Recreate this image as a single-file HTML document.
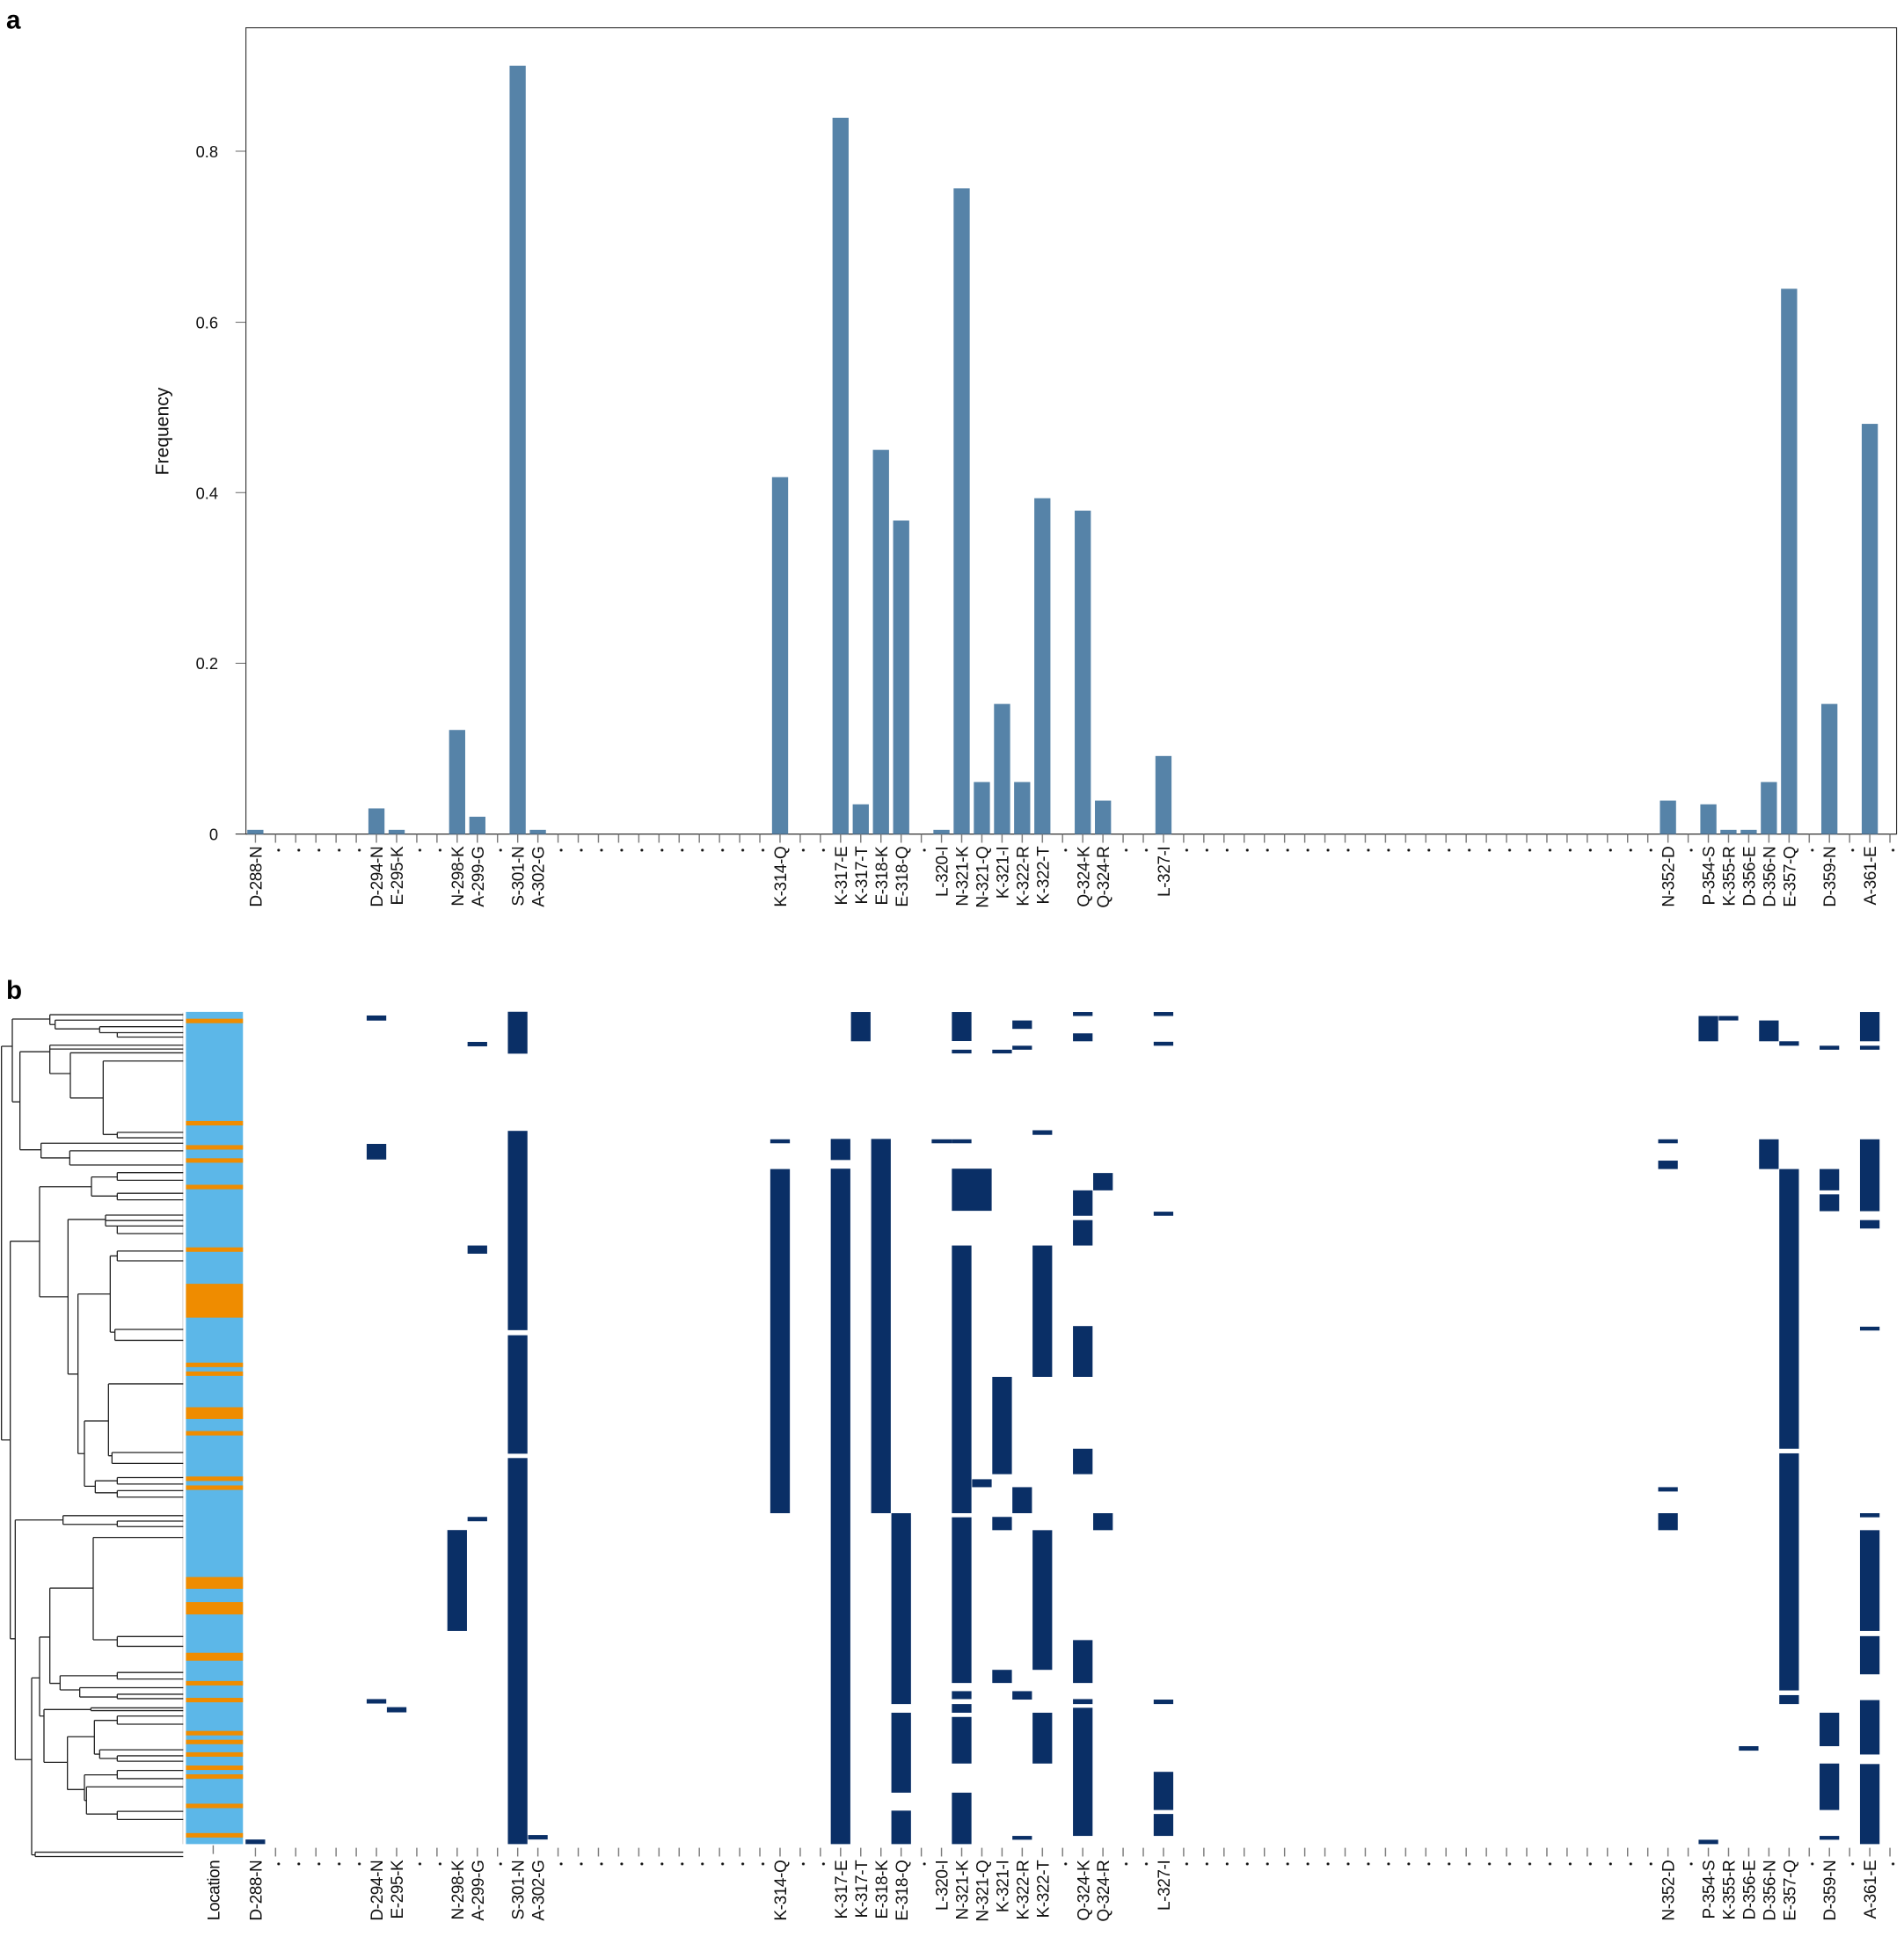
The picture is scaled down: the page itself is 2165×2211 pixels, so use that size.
<!DOCTYPE html>
<html><head><meta charset="utf-8"><style>html,body{margin:0;padding:0;background:#fff}svg{display:block}</style></head>
<body>
<svg xmlns="http://www.w3.org/2000/svg" xmlns:xlink="http://www.w3.org/1999/xlink" width="2165" height="2211" viewBox="0 0 1536 1568.6" font-family="Liberation Sans, sans-serif">
<defs>
<pattern id="tk" patternUnits="userSpaceOnUse" x="205.5" y="0" width="16.28" height="2000"><rect x="0" y="0" width="1" height="2000" fill="#777"/></pattern>
<pattern id="dt" patternUnits="userSpaceOnUse" x="198" y="684" width="16.28" height="4"><circle cx="10.5" cy="2" r="1.1" fill="#111"/></pattern>
<g id="xaxis">
<rect x="205.5" y="673" width="1336" height="7" fill="url(#tk)"/>
<g fill="url(#dt)">
<rect x="214.28" y="684" width="81.4" height="4"/><rect x="328.24" y="684" width="32.56" height="4"/><rect x="393.36" y="684" width="16.28" height="4"/><rect x="442.2" y="684" width="179.08" height="4"/><rect x="637.56" y="684" width="32.56" height="4"/><rect x="735.24" y="684" width="16.28" height="4"/><rect x="849.2" y="684" width="16.28" height="4"/><rect x="898.04" y="684" width="32.56" height="4"/><rect x="946.88" y="684" width="390.72" height="4"/><rect x="1353.88" y="684" width="16.28" height="4"/><rect x="1451.56" y="684" width="16.28" height="4"/><rect x="1484.12" y="684" width="16.28" height="4"/><rect x="1516.68" y="684" width="16.28" height="4"/>
</g>
<g font-size="13.5" fill="#111" text-anchor="end" letter-spacing="-0.3">
<text transform="translate(211,683) rotate(-90)">D-288-N</text>
<text transform="translate(308.7,683) rotate(-90)">D-294-N</text>
<text transform="translate(325,683) rotate(-90)">E-295-K</text>
<text transform="translate(373.8,683) rotate(-90)">N-298-K</text>
<text transform="translate(390.1,683) rotate(-90)">A-299-G</text>
<text transform="translate(422.6,683) rotate(-90)">S-301-N</text>
<text transform="translate(438.9,683) rotate(-90)">A-302-G</text>
<text transform="translate(634.3,683) rotate(-90)">K-314-Q</text>
<text transform="translate(683.1,683) rotate(-90)">K-317-E</text>
<text transform="translate(699.4,683) rotate(-90)">K-317-T</text>
<text transform="translate(715.7,683) rotate(-90)">E-318-K</text>
<text transform="translate(732,683) rotate(-90)">E-318-Q</text>
<text transform="translate(764.5,683) rotate(-90)">L-320-I</text>
<text transform="translate(780.8,683) rotate(-90)">N-321-K</text>
<text transform="translate(797.1,683) rotate(-90)">N-321-Q</text>
<text transform="translate(813.4,683) rotate(-90)">K-321-I</text>
<text transform="translate(829.6,683) rotate(-90)">K-322-R</text>
<text transform="translate(845.9,683) rotate(-90)">K-322-T</text>
<text transform="translate(878.5,683) rotate(-90)">Q-324-K</text>
<text transform="translate(894.8,683) rotate(-90)">Q-324-R</text>
<text transform="translate(943.6,683) rotate(-90)">L-327-I</text>
<text transform="translate(1350.6,683) rotate(-90)">N-352-D</text>
<text transform="translate(1383.2,683) rotate(-90)">P-354-S</text>
<text transform="translate(1399.4,683) rotate(-90)">K-355-R</text>
<text transform="translate(1415.7,683) rotate(-90)">D-356-E</text>
<text transform="translate(1432,683) rotate(-90)">D-356-N</text>
<text transform="translate(1448.3,683) rotate(-90)">E-357-Q</text>
<text transform="translate(1480.8,683) rotate(-90)">D-359-N</text>
<text transform="translate(1513.4,683) rotate(-90)">A-361-E</text>
</g>
</g>
</defs>

<text x="5" y="23" font-size="21" font-weight="bold">a</text>
<text x="5" y="806" font-size="21" font-weight="bold">b</text>

<!-- panel a -->
<g stroke="#777" stroke-width="0.8">
<line x1="190" y1="122" x2="198" y2="122"/><line x1="190" y1="260" x2="198" y2="260"/><line x1="190" y1="397.5" x2="198" y2="397.5"/><line x1="190" y1="535.2" x2="198" y2="535.2"/>
</g>
<line x1="190" y1="673" x2="1530" y2="673" stroke="#333" stroke-width="0.8"/>
<rect x="198.4" y="22.4" width="1331.6" height="650.6" fill="none" stroke="#333" stroke-width="0.8"/>
<g font-size="13" fill="#111" text-anchor="end">
<text x="176" y="127">0.8</text><text x="176" y="265">0.6</text><text x="176" y="402.5">0.4</text><text x="176" y="540">0.2</text><text x="176" y="678">0</text>
</g>
<text transform="translate(136,348) rotate(-90)" font-size="15" text-anchor="middle" fill="#111">Frequency</text>

<g fill="#5683a8">
<rect x="199.5" y="669.6" width="13" height="3.4"/>
<rect x="297.2" y="652.3" width="13" height="20.7"/>
<rect x="313.5" y="669.6" width="13" height="3.4"/>
<rect x="362.3" y="589" width="13" height="84"/>
<rect x="378.6" y="659" width="13" height="14"/>
<rect x="411.1" y="53" width="13" height="620"/>
<rect x="427.4" y="669.6" width="13" height="3.4"/>
<rect x="622.8" y="385" width="13" height="288"/>
<rect x="671.6" y="95" width="13" height="578"/>
<rect x="687.9" y="649" width="13" height="24"/>
<rect x="704.2" y="363" width="13" height="310"/>
<rect x="720.5" y="420" width="13" height="253"/>
<rect x="753" y="669.6" width="13" height="3.4"/>
<rect x="769.3" y="152" width="13" height="521"/>
<rect x="785.6" y="631" width="13" height="42"/>
<rect x="801.9" y="568" width="13" height="105"/>
<rect x="818.1" y="631" width="13" height="42"/>
<rect x="834.4" y="402" width="13" height="271"/>
<rect x="867" y="412" width="13" height="261"/>
<rect x="883.3" y="646" width="13" height="27"/>
<rect x="932.1" y="610" width="13" height="63"/>
<rect x="1339.1" y="646" width="13" height="27"/>
<rect x="1371.7" y="649" width="13" height="24"/>
<rect x="1387.9" y="669.6" width="13" height="3.4"/>
<rect x="1404.2" y="669.6" width="13" height="3.4"/>
<rect x="1420.5" y="631" width="13" height="42"/>
<rect x="1436.8" y="233" width="13" height="440"/>
<rect x="1469.3" y="568" width="13" height="105"/>
<rect x="1501.9" y="342" width="13" height="331"/>
</g>

<use xlink:href="#xaxis"/>
<use xlink:href="#xaxis" transform="translate(0,818)"/>

<!-- panel b location -->
<rect x="150" y="816.5" width="46" height="671.5" fill="#5cb7e8"/>
<g fill="#ef8c00">
<rect x="150" y="822" width="46" height="3.6"/><rect x="150" y="904.5" width="46" height="3.6"/><rect x="150" y="924" width="46" height="3.6"/><rect x="150" y="934.6" width="46" height="3.6"/><rect x="150" y="956" width="46" height="3.6"/><rect x="150" y="1006.5" width="46" height="3.6"/><rect x="150" y="1035.9" width="46" height="27.3"/><rect x="150" y="1099.5" width="46" height="3.6"/><rect x="150" y="1106.6" width="46" height="3.6"/><rect x="150" y="1135.5" width="46" height="9.5"/><rect x="150" y="1154.7" width="46" height="3.6"/><rect x="150" y="1191.4" width="46" height="3.6"/><rect x="150" y="1198.6" width="46" height="3.6"/><rect x="150" y="1272.5" width="46" height="9.5"/><rect x="150" y="1292.7" width="46" height="10"/><rect x="150" y="1333.6" width="46" height="6.4"/><rect x="150" y="1356.4" width="46" height="3.6"/><rect x="150" y="1370" width="46" height="3.6"/><rect x="150" y="1396.7" width="46" height="3.6"/><rect x="150" y="1403.8" width="46" height="3.6"/><rect x="150" y="1413.9" width="46" height="3.6"/><rect x="150" y="1424.6" width="46" height="3.6"/><rect x="150" y="1431.7" width="46" height="3.6"/><rect x="150" y="1455.4" width="46" height="3.6"/><rect x="150" y="1479.1" width="46" height="3.6"/>
</g>
<line x1="172" y1="1489" x2="172" y2="1496" stroke="#777" stroke-width="1"/>
<text transform="translate(177,1501) rotate(-90)" font-size="13.5" text-anchor="end" fill="#111" letter-spacing="-0.3">Location</text>
<line x1="147.5" y1="817" x2="147.5" y2="1488" stroke="#ccc" stroke-width="0.6"/>

<!-- dendrogram -->
<g transform="translate(0,809.1) scale(0.23649,0.43937)">
<path fill="none" stroke="#222" stroke-width="1.3" vector-effect="non-scaling-stroke" d="M5 80V803 M5 80H42 M5 803H35
M42 30V182 M42 30H170 M42 182H68
M170 22V40 M170 22H625 M170 40H188
M188 32V48 M188 32H625 M188 48H340
M340 44V55 M340 44H625 M340 55H400 M400 55V63 M400 55H625 M400 63H625
M68 90V270 M68 90H170 M68 270H140
M170 78V130 M170 78H625 M170 85H625 M170 130H240
M240 92V175 M240 92H625 M240 175H352
M352 107V242 M352 107H625 M352 242H400 M400 238V248 M400 238H625 M400 248H625
M140 258V285 M140 258H625 M140 285H238 M238 272V298 M238 272H625 M238 298H625
M35 438V1168 M35 438H135 M35 1168H52
M135 338V540 M135 338H312 M135 540H232
M312 320V355 M312 320H400 M400 312V326 M400 312H625 M400 326H625 M312 355H400 M400 350V362 M400 350H625 M400 362H625
M232 398V682 M232 398H360 M232 682H266
M360 390V410 M360 390H625 M360 400H625 M360 410H400 M400 410V424 M400 410H625 M400 424H625
M266 535V828 M266 535H376 M266 828H288
M376 465V605 M376 465H400 M400 456V474 M400 456H625 M400 474H625 M376 605H392 M392 600V620 M392 600H625 M392 620H625
M288 768V888 M288 768H370 M288 888H325
M370 700V832 M370 700H625 M370 832H382 M382 826V846 M382 826H625 M382 846H625
M325 878V900 M325 878H400 M400 872V884 M400 872H625 M400 884H625 M325 900H400 M400 896V908 M400 896H625 M400 908H625
M52 950V1390 M52 950H215 M52 1390H108
M215 942V958 M215 942H625 M215 958H400 M400 952V962 M400 952H625 M400 962H625
M108 1240V1565 M108 1240H135 M108 1565H120 M120 1560V1568 M120 1560H625 M120 1568H625
M135 1165V1310 M135 1165H170 M135 1310H150
M170 1075V1250 M170 1075H318 M170 1250H205
M318 982V1170 M318 982H625 M318 1170H400 M400 1164V1182 M400 1164H625 M400 1182H625
M205 1236V1262 M205 1236H400 M400 1230V1242 M400 1230H625 M400 1242H625 M205 1262H272 M272 1258V1275 M272 1258H625 M272 1275H400 M400 1270V1278 M400 1270H625 M400 1278H625
M150 1298V1395 M150 1298H310 M310 1295V1300 M310 1295H625 M310 1300H625 M150 1395H230
M230 1348V1445 M230 1348H322 M230 1445H288
M322 1318V1380 M322 1318H400 M400 1310V1325 M400 1310H625 M400 1325H625 M322 1380H340 M340 1372V1388 M340 1372H625 M340 1388H400 M400 1383V1393 M400 1383H625 M400 1393H625
M288 1418V1465 M288 1418H400 M400 1410V1425 M400 1410H625 M400 1425H625 M288 1465H295 M295 1440V1490 M295 1440H625 M295 1490H400 M400 1485V1500 M400 1485H625 M400 1500H625"/>
</g>

<!-- heatmap -->
<g fill="#0a2f66">
<rect x="198.1" y="1484.3" width="15.8" height="3.7"/>
<rect x="295.8" y="819.4" width="15.8" height="4.1"/><rect x="295.8" y="923" width="15.8" height="12.6"/><rect x="295.8" y="1371" width="15.8" height="3.6"/>
<rect x="312.1" y="1377.5" width="15.8" height="4.2"/>
<rect x="360.9" y="1234.6" width="15.8" height="81.4"/>
<rect x="377.2" y="840.7" width="15.8" height="3.6"/><rect x="377.2" y="1005" width="15.8" height="6.6"/><rect x="377.2" y="1224" width="15.8" height="3.5"/>
<rect x="409.7" y="816.4" width="15.8" height="33.8"/><rect x="409.7" y="912.5" width="15.8" height="160.8"/><rect x="409.7" y="1077.4" width="15.8" height="95.6"/><rect x="409.7" y="1176.5" width="15.8" height="311.5"/>
<rect x="426" y="1480.7" width="15.8" height="3.6"/>
<rect x="621.4" y="919.3" width="15.8" height="3.2"/><rect x="621.4" y="943.3" width="15.8" height="277.7"/>
<rect x="670.2" y="919" width="15.8" height="17"/><rect x="670.2" y="943" width="15.8" height="545"/>
<rect x="686.5" y="816.6" width="15.8" height="23.6"/>
<rect x="702.8" y="919" width="15.8" height="302"/>
<rect x="719.1" y="1221" width="15.8" height="154"/><rect x="719.1" y="1382" width="15.8" height="64.5"/><rect x="719.1" y="1461" width="15.8" height="27"/>
<rect x="751.6" y="919.3" width="16.3" height="3.2"/>
<rect x="767.9" y="816.6" width="15.8" height="23.4"/><rect x="767.9" y="847" width="15.8" height="3"/><rect x="767.9" y="919.3" width="15.8" height="3.2"/><rect x="767.9" y="943" width="32.1" height="34"/><rect x="767.9" y="1005" width="15.8" height="216"/><rect x="767.9" y="1224.3" width="15.8" height="133.7"/><rect x="767.9" y="1364.6" width="15.8" height="6.4"/><rect x="767.9" y="1375" width="15.8" height="7"/><rect x="767.9" y="1385.4" width="15.8" height="37.6"/><rect x="767.9" y="1446.5" width="15.8" height="41.5"/>
<rect x="784.2" y="1193.6" width="15.8" height="6.4"/>
<rect x="800.5" y="847" width="15.8" height="3"/><rect x="800.5" y="1111" width="15.8" height="78.5"/><rect x="800.5" y="1224" width="15.8" height="10.7"/><rect x="800.5" y="1347.4" width="15.8" height="10.6"/>
<rect x="816.7" y="823.4" width="15.8" height="6.8"/><rect x="816.7" y="843.8" width="15.8" height="3.2"/><rect x="816.7" y="1200" width="15.8" height="21"/><rect x="816.7" y="1364.6" width="15.8" height="6.8"/><rect x="816.7" y="1481.4" width="15.8" height="3.1"/>
<rect x="833" y="912" width="15.8" height="3.7"/><rect x="833" y="1005" width="15.8" height="106"/><rect x="833" y="1234.7" width="15.8" height="112.7"/><rect x="833" y="1382" width="15.8" height="41"/>
<rect x="865.6" y="816.6" width="15.8" height="3.2"/><rect x="865.6" y="833.8" width="15.8" height="6.4"/><rect x="865.6" y="960.5" width="15.8" height="20.5"/><rect x="865.6" y="984.5" width="15.8" height="20.5"/><rect x="865.6" y="1070" width="15.8" height="41"/><rect x="865.6" y="1169" width="15.8" height="20.5"/><rect x="865.6" y="1323.4" width="15.8" height="34.6"/><rect x="865.6" y="1371" width="15.8" height="4"/><rect x="865.6" y="1378" width="15.8" height="103.4"/>
<rect x="881.9" y="946.5" width="15.8" height="14"/><rect x="881.9" y="1221" width="15.8" height="13.7"/>
<rect x="930.7" y="816.6" width="15.8" height="3.2"/><rect x="930.7" y="840.6" width="15.8" height="3.2"/><rect x="930.7" y="977.7" width="15.8" height="3.3"/><rect x="930.7" y="1371.4" width="15.8" height="3.6"/><rect x="930.7" y="1429.7" width="15.8" height="30.8"/><rect x="930.7" y="1463.7" width="15.8" height="17.7"/>
<rect x="1337.7" y="919.3" width="15.8" height="3.2"/><rect x="1337.7" y="936.5" width="15.8" height="6.8"/><rect x="1337.7" y="1200" width="15.8" height="3.5"/><rect x="1337.7" y="1221" width="15.8" height="13.7"/>
<rect x="1370.3" y="819.8" width="15.8" height="20.4"/><rect x="1370.3" y="1484.5" width="15.8" height="3.5"/>
<rect x="1386.5" y="819.8" width="15.8" height="3.6"/>
<rect x="1402.8" y="1409" width="15.8" height="3.6"/>
<rect x="1419.1" y="823.4" width="15.8" height="16.8"/><rect x="1419.1" y="919.3" width="15.8" height="24"/>
<rect x="1435.4" y="840.2" width="15.8" height="3.6"/><rect x="1435.4" y="943.3" width="15.8" height="225.7"/><rect x="1435.4" y="1172.7" width="15.8" height="191.3"/><rect x="1435.4" y="1367.8" width="15.8" height="7.2"/>
<rect x="1467.9" y="843.8" width="15.8" height="3.2"/><rect x="1467.9" y="943.3" width="15.8" height="17.2"/><rect x="1467.9" y="963.7" width="15.8" height="13.6"/><rect x="1467.9" y="1382" width="15.8" height="27"/><rect x="1467.9" y="1423" width="15.8" height="37.5"/><rect x="1467.9" y="1481.4" width="15.8" height="3.1"/>
<rect x="1500.5" y="816.6" width="15.8" height="23.6"/><rect x="1500.5" y="843.8" width="15.8" height="3.2"/><rect x="1500.5" y="919.3" width="15.8" height="58"/><rect x="1500.5" y="984.5" width="15.8" height="6.8"/><rect x="1500.5" y="1070.5" width="15.8" height="3.1"/><rect x="1500.5" y="1221" width="15.8" height="3.3"/><rect x="1500.5" y="1234.7" width="15.8" height="81.3"/><rect x="1500.5" y="1320.2" width="15.8" height="30.8"/><rect x="1500.5" y="1371.8" width="15.8" height="43.9"/><rect x="1500.5" y="1423.4" width="15.8" height="64.6"/>
</g>
</svg>
</body></html>
